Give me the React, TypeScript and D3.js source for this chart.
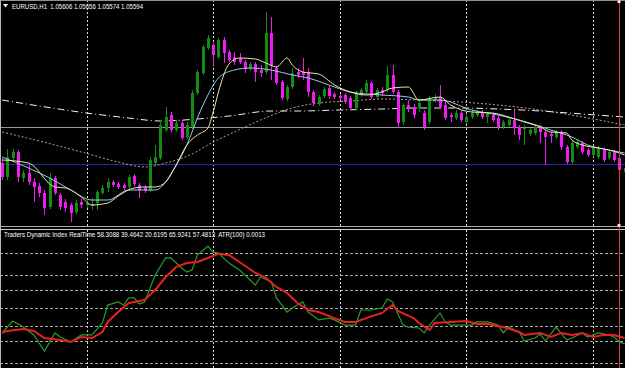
import React from 'react';
import * as d3 from 'd3';

const W = 625;
const H = 368;

const symbolTitle = 'EURUSD,H1  1.05606 1.05656 1.05574 1.05594';
const tdiTitle = 'Traders Dynamic Index RealTime 58.3088 39.4642 20.6195 65.9241 57.4813  ATR(100) 0.0013';

// H1 candles, oldest -> newest
const opens = [
  1.0567, 1.0553, 1.0572, 1.0578, 1.0552, 1.0557, 1.0548, 1.0544, 1.0537, 1.0523,
  1.0552, 1.0535, 1.0528, 1.0525, 1.0518, 1.0528, 1.0525, 1.0524, 1.0527, 1.0537,
  1.0542, 1.0548, 1.0546, 1.0545, 1.0543, 1.0554, 1.0545, 1.0543, 1.0540, 1.0567,
  1.0572, 1.0600, 1.0615, 1.0600, 1.0607, 1.0593, 1.0603, 1.0637, 1.0657, 1.0682,
  1.0685, 1.0673, 1.0690, 1.0678, 1.0673, 1.0672, 1.0668, 1.0661, 1.0666, 1.0660,
  1.0658, 1.0697, 1.0662, 1.0648, 1.0631, 1.0643, 1.0658, 1.0658, 1.0658, 1.0638,
  1.0626, 1.0634, 1.0642, 1.0636, 1.0634, 1.0635, 1.0632, 1.0622, 1.0635, 1.0638,
  1.0647, 1.0633, 1.0640, 1.0640, 1.0655, 1.0638, 1.0608, 1.0625, 1.0623, 1.0622,
  1.0617, 1.0608, 1.0630, 1.0633, 1.0625, 1.0615, 1.0612, 1.0617, 1.0608, 1.0613,
  1.0615, 1.0618, 1.0613, 1.0615, 1.0612, 1.0603, 1.0605, 1.0610, 1.0603, 1.0601,
  1.0596, 1.0597, 1.0602, 1.0598, 1.0596, 1.0593, 1.0598, 1.0583, 1.0568, 1.0583,
  1.0587, 1.0580, 1.0575, 1.0573, 1.0580, 1.0572, 1.0578, 1.0572, 1.0558,
];
const highs = [
  1.0572, 1.0581, 1.0581, 1.0580, 1.0560, 1.0565, 1.0552, 1.0547, 1.0540, 1.0557,
  1.0554, 1.0537, 1.0531, 1.0527, 1.0530, 1.0531, 1.0530, 1.0532, 1.0540, 1.0545,
  1.0552, 1.0550, 1.0548, 1.0547, 1.0555, 1.0556, 1.0547, 1.0545, 1.0573, 1.0585,
  1.0610, 1.0623, 1.0618, 1.0610, 1.0610, 1.0608, 1.0640, 1.0660, 1.0685, 1.0695,
  1.0687, 1.0692, 1.0693, 1.0680, 1.0678, 1.0677, 1.0670, 1.0668, 1.0668, 1.0665,
  1.0718, 1.0713, 1.0664, 1.0650, 1.0645, 1.0662, 1.0662, 1.0672, 1.0662, 1.0640,
  1.0635, 1.0643, 1.0644, 1.0638, 1.0636, 1.0637, 1.0634, 1.0639, 1.0642, 1.0650,
  1.0649, 1.0642, 1.0643, 1.0664, 1.0665, 1.0640, 1.0627, 1.0630, 1.0626, 1.0630,
  1.0620, 1.0634, 1.0636, 1.0645, 1.0630, 1.0617, 1.0620, 1.0619, 1.0615, 1.0620,
  1.0620, 1.0620, 1.0618, 1.0617, 1.0614, 1.0610, 1.0612, 1.0620, 1.0605, 1.0605,
  1.0602, 1.0605, 1.0605, 1.0600, 1.0598, 1.0600, 1.0600, 1.0585, 1.0589, 1.0590,
  1.0589, 1.0582, 1.0584, 1.0584, 1.0582, 1.0580, 1.0580, 1.0574, 1.0564,
];
const lows = [
  1.0550, 1.0550, 1.0570, 1.0548, 1.0548, 1.0545, 1.0528, 1.0533, 1.0515, 1.0521,
  1.0535, 1.0520, 1.0518, 1.0508, 1.0516, 1.0522, 1.0522, 1.0520, 1.0520, 1.0535,
  1.0538, 1.0543, 1.0541, 1.0540, 1.0541, 1.0544, 1.0532, 1.0537, 1.0538, 1.0565,
  1.0570, 1.0598, 1.0598, 1.0598, 1.0590, 1.0591, 1.0601, 1.0635, 1.0655, 1.0680,
  1.0663, 1.0671, 1.0667, 1.0668, 1.0665, 1.0666, 1.0657, 1.0659, 1.0648, 1.0653,
  1.0656, 1.0650, 1.0645, 1.0630, 1.0629, 1.0641, 1.0652, 1.0650, 1.0633, 1.0624,
  1.0624, 1.0632, 1.0631, 1.0631, 1.0630, 1.0626, 1.0620, 1.0620, 1.0633, 1.0636,
  1.0631, 1.0631, 1.0634, 1.0638, 1.0636, 1.0602, 1.0605, 1.0618, 1.0612, 1.0618,
  1.0600, 1.0606, 1.0628, 1.0621, 1.0610, 1.0608, 1.0610, 1.0608, 1.0606, 1.0611,
  1.0613, 1.0611, 1.0607, 1.0608, 1.0600, 1.0601, 1.0603, 1.0595, 1.0590, 1.0585,
  1.0594, 1.0595, 1.0587, 1.0565, 1.0587, 1.0591, 1.0580, 1.0566, 1.0566, 1.0581,
  1.0576, 1.0573, 1.0573, 1.0571, 1.0568, 1.0570, 1.0568, 1.0558, 1.0557,
];
const closes = [
  1.0553, 1.0573, 1.0578, 1.0553, 1.0557, 1.0548, 1.0543, 1.0537, 1.0522, 1.0552,
  1.0537, 1.0523, 1.0522, 1.0517, 1.0527, 1.0525, 1.0527, 1.0526, 1.0538, 1.0542,
  1.0548, 1.0545, 1.0543, 1.0542, 1.0553, 1.0546, 1.0540, 1.0539, 1.0570, 1.0573,
  1.0605, 1.0613, 1.0600, 1.0607, 1.0592, 1.0605, 1.0637, 1.0658, 1.0683, 1.0692,
  1.0675, 1.0690, 1.0677, 1.0670, 1.0668, 1.0668, 1.0661, 1.0666, 1.0658, 1.0657,
  1.0697, 1.0664, 1.0647, 1.0632, 1.0643, 1.0657, 1.0655, 1.0655, 1.0638, 1.0627,
  1.0633, 1.0641, 1.0634, 1.0633, 1.0632, 1.0628, 1.0622, 1.0637, 1.0640, 1.0647,
  1.0633, 1.0640, 1.0637, 1.0655, 1.0638, 1.0607, 1.0625, 1.0622, 1.0615, 1.0627,
  1.0603, 1.0632, 1.0633, 1.0623, 1.0612, 1.0613, 1.0617, 1.0610, 1.0613, 1.0617,
  1.0618, 1.0613, 1.0616, 1.0610, 1.0603, 1.0608, 1.0610, 1.0602, 1.0595, 1.0602,
  1.0600, 1.0603, 1.0598, 1.0593, 1.0594, 1.0598, 1.0583, 1.0568, 1.0587, 1.0588,
  1.0578, 1.0575, 1.0582, 1.0582, 1.0570, 1.0578, 1.0570, 1.0560, 1.0562,
];

// moving averages (bar index, price)
const slowMaBars = [0, 7, 16, 24, 30, 37, 43, 51, 56, 64, 72, 79, 87, 94, 102, 110, 118];
const slowMaVals = [1.0630, 1.0624, 1.0617, 1.0612, 1.0609, 1.0611, 1.0614, 1.0619, 1.0619, 1.0620, 1.0621, 1.0622, 1.0622, 1.0621, 1.0619, 1.0616, 1.0613];

const midMaBars = [0, 7, 15, 22, 27, 31, 36, 39, 44, 49, 55, 60, 66, 72, 79, 87, 94, 102, 110, 118];
const midMaVals = [1.0598, 1.0589, 1.0578, 1.0568, 1.0563, 1.0567, 1.0576, 1.0585, 1.0598, 1.0610, 1.0622, 1.0627, 1.0629, 1.0631, 1.0630, 1.0628, 1.0625, 1.0620, 1.0613, 1.0605];

const yellowBars = [0, 5, 10, 12, 15, 17, 20, 22, 25, 27, 29, 31, 33, 35, 37, 39, 40, 41, 42, 43, 45, 48, 50, 52, 54, 55, 57, 60, 63, 66, 69, 72, 74, 77, 79, 83, 85, 89, 93, 96, 99, 102, 104, 107, 108, 110, 113, 115, 117, 118];
const yellowVals = [1.0570, 1.0567, 1.0543, 1.0542, 1.0533, 1.0525, 1.0527, 1.0534, 1.0542, 1.0543, 1.0543, 1.0548, 1.0565, 1.0585, 1.0595, 1.0602, 1.0618, 1.0638, 1.0655, 1.0666, 1.0672, 1.0671, 1.0667, 1.0663, 1.0672, 1.0665, 1.0658, 1.0656, 1.0645, 1.0638, 1.0635, 1.0638, 1.0642, 1.0643, 1.0630, 1.0633, 1.0625, 1.0618, 1.0617, 1.0613, 1.0608, 1.0603, 1.0598, 1.0597, 1.0590, 1.0585, 1.0582, 1.0580, 1.0577, 1.0575];

const cyanBars = [0, 5, 9, 13, 17, 20, 24, 27, 29, 33, 35, 36, 37, 38, 39, 41, 44, 47, 51, 55, 58, 63, 66, 72, 77, 79, 83, 89, 94, 100, 104, 108, 111, 115, 118];
const cyanVals = [1.0573, 1.0562, 1.0552, 1.0540, 1.0530, 1.0530, 1.0540, 1.0540, 1.0540, 1.0565, 1.0585, 1.0598, 1.0612, 1.0624, 1.0635, 1.0652, 1.0660, 1.0662, 1.0660, 1.0655, 1.0652, 1.0643, 1.0638, 1.0635, 1.0633, 1.0630, 1.0630, 1.0620, 1.0615, 1.0607, 1.0600, 1.0593, 1.0585, 1.0580, 1.0577];

// Traders Dynamic Index (bar index, value)
const rsiBars = [0, 2, 4, 6, 8, 10, 11, 13, 15, 17, 19, 20, 22, 23, 24, 25, 26, 27, 29, 31, 32, 34, 35, 36, 37, 39, 40, 41, 43, 45, 47, 48, 49, 51, 52, 54, 55, 57, 58, 60, 62, 63, 65, 67, 68, 70, 72, 73, 74, 76, 77, 79, 80, 81, 83, 84, 85, 87, 89, 90, 92, 94, 95, 96, 98, 99, 101, 102, 103, 105, 107, 108, 110, 111, 113, 115, 116, 117, 118];
const rsiVals = [36.4, 42.9, 39.6, 35.3, 26.5, 36.4, 34.2, 31.5, 35.3, 35.3, 41.8, 51.6, 53.3, 51.6, 55.5, 55.5, 52.2, 53.3, 68.0, 77.3, 77.3, 71.8, 69.6, 70.7, 78.9, 83.8, 80.5, 80.0, 74.5, 70.7, 65.3, 62.5, 66.9, 64.2, 55.5, 47.8, 50.0, 53.3, 47.8, 43.5, 44.5, 43.5, 40.7, 40.7, 48.9, 48.9, 50.0, 54.9, 53.3, 40.7, 39.6, 39.1, 36.4, 40.7, 47.3, 42.4, 40.7, 40.7, 40.7, 42.4, 42.4, 40.7, 36.4, 39.6, 36.9, 32.0, 33.6, 35.8, 32.0, 39.6, 32.5, 33.6, 36.4, 34.2, 36.4, 35.3, 34.2, 31.5, 30.4];

const signalBars = [0, 1, 4, 6, 8, 11, 13, 15, 17, 19, 20, 22, 24, 26, 27, 29, 31, 33, 35, 37, 39, 41, 43, 45, 48, 50, 52, 54, 56, 58, 60, 63, 65, 67, 69, 72, 74, 75, 78, 79, 81, 82, 85, 88, 90, 92, 95, 98, 99, 102, 104, 106, 108, 110, 112, 114, 116, 118];
const signalVals = [36.4, 37.5, 38.5, 37.5, 33.6, 32.5, 31.5, 34.2, 33.6, 36.9, 42.4, 47.8, 52.7, 53.8, 54.4, 59.8, 66.9, 72.4, 74.5, 75.1, 77.3, 79.5, 78.9, 75.1, 69.1, 66.4, 61.5, 58.2, 52.7, 48.9, 47.8, 44.5, 42.4, 42.4, 44.5, 47.3, 51.6, 48.4, 44.5, 41.8, 38.0, 41.8, 42.4, 42.9, 41.3, 41.3, 39.6, 36.9, 35.3, 36.4, 34.2, 36.4, 35.3, 36.4, 34.2, 35.3, 35.3, 33.6];

const tdiLevels = [80, 68, 60, 50, 40, 32, 20];
const dayStartBars = [16, 40, 64, 88, 112];
const markerBar = 117;
const grayLevel = 1.0603;
const blueLevel = 1.0566;

const BULL = '#138c13';
const BEAR = '#ee1cee';

export default function App() {
  const x = d3.scaleLinear().domain([0, 118]).range([2.2, 624.6]);
  const yP = d3.scaleLinear().domain([1.073, 1.0502]).range([0, 228]);
  const yI = d3.scaleLinear().domain([20, 80]).range([363, 253]);

  const pairs = (bars: number[], vals: number[]) => bars.map((b, i) => [b, vals[i]] as [number, number]);

  const maLine = d3.line<[number, number]>().x(d => x(d[0])).y(d => yP(d[1])).curve(d3.curveMonotoneX);
  const tdiLine = d3.line<[number, number]>().x(d => x(d[0])).y(d => yI(d[1])).curve(d3.curveLinear);

  const px = (v: number) => Math.round(v) + 0.5;

  return (
    <svg width={W} height={H} style={{ position: 'absolute', left: 0, top: 0, display: 'block' }}
      fontFamily="'Liberation Sans', Arial, sans-serif">
      <defs>
        <clipPath id="mainClip"><rect x={0} y={0} width={W} height={226} /></clipPath>
        <clipPath id="subClip"><rect x={0} y={230} width={W} height={H - 230} /></clipPath>
      </defs>
      <rect x={0} y={0} width={W} height={H} fill="#000" />

      {/* main panel */}
      <g clipPath="url(#mainClip)">
        {dayStartBars.map(b => (
          <line key={'g' + b} x1={px(x(b))} x2={px(x(b))} y1={0} y2={226} stroke="#d8d8d8" strokeDasharray="2,2" />
        ))}
        <line x1={0} x2={W} y1={px(yP(grayLevel))} y2={px(yP(grayLevel))} stroke="#9a9a9a" />
        <line x1={0} x2={W} y1={px(yP(blueLevel))} y2={px(yP(blueLevel))} stroke="#2626a6" />

        <path d={maLine(pairs(midMaBars, midMaVals)) || ''} fill="none" stroke="#c49c86" strokeDasharray="2,2" />
        <path d={maLine(pairs(slowMaBars, slowMaVals)) || ''} fill="none" stroke="#f2f2f2" strokeDasharray="7,3,1,3" />

        {opens.map((o, i) => {
          const c = closes[i];
          const bull = c >= o;
          const col = bull ? BULL : BEAR;
          const cx = Math.round(x(i));
          const yH = Math.round(yP(highs[i]));
          const yL = Math.round(yP(lows[i]));
          const yT = Math.round(yP(Math.max(o, c)));
          const yB = Math.round(yP(Math.min(o, c)));
          return (
            <g key={'c' + i}>
              <rect x={cx} y={yH} width={1} height={Math.max(1, yL - yH)} fill={col} />
              <rect x={cx - 1} y={yT} width={3} height={Math.max(1, yB - yT)} fill={col} />
            </g>
          );
        })}

        <path d={maLine(pairs(cyanBars, cyanVals)) || ''} fill="none" stroke="#8fd0e8" strokeWidth={1} />
        <path d={maLine(pairs(yellowBars, yellowVals)) || ''} fill="none" stroke="#efe6a6" strokeWidth={1} />
      </g>

      {/* sub panel */}
      <g clipPath="url(#subClip)">
        {tdiLevels.map(l => (
          <line key={'l' + l} x1={0} x2={W} y1={px(yI(l))} y2={px(yI(l))} stroke="#a8a8a8" strokeDasharray="3,2" />
        ))}
        {dayStartBars.map(b => (
          <line key={'s' + b} x1={px(x(b))} x2={px(x(b))} y1={230} y2={H} stroke="#d8d8d8" strokeDasharray="2,2" />
        ))}
        <path d={tdiLine(pairs(rsiBars, rsiVals)) || ''} fill="none" stroke="#2a9a2a" strokeWidth={1.2} />
        <path d={tdiLine(pairs(signalBars, signalVals)) || ''} fill="none" stroke="#e82020" strokeWidth={2} />
      </g>

      {/* borders / separators */}
      <line x1={0} x2={W} y1={0.5} y2={0.5} stroke="#909090" />
      <line x1={0.5} x2={0.5} y1={0} y2={H} stroke="#b8b8b8" />
      <line x1={0} x2={W} y1={226.5} y2={226.5} stroke="#b0b0b0" />
      <line x1={0} x2={W} y1={229.5} y2={229.5} stroke="#d0d0d0" />

      {/* vertical marker line */}
      <line x1={px(x(markerBar))} x2={px(x(markerBar))} y1={0} y2={H} stroke="#cc4444" />
      <rect x={px(x(markerBar)) - 2} y={0} width={3} height={3} fill="#fff" stroke="#cc4444" strokeWidth={0.5} />
      <rect x={px(x(markerBar)) - 2} y={224} width={3} height={3} fill="#fff" stroke="#cc4444" strokeWidth={0.5} />

      {/* titles */}
      <path d="M3,4 L8,4 L5.5,7.5 Z" fill="#fff" />
      <text x={12} y={9} fontSize={8} fill="#fff" textLength={131} lengthAdjust="spacingAndGlyphs" style={{ whiteSpace: 'pre' }}>
        {symbolTitle}
      </text>
      <text x={4} y={237} fontSize={8} fill="#fff" textLength={261} lengthAdjust="spacingAndGlyphs" style={{ whiteSpace: 'pre' }}>
        {tdiTitle}
      </text>
    </svg>
  );
}
